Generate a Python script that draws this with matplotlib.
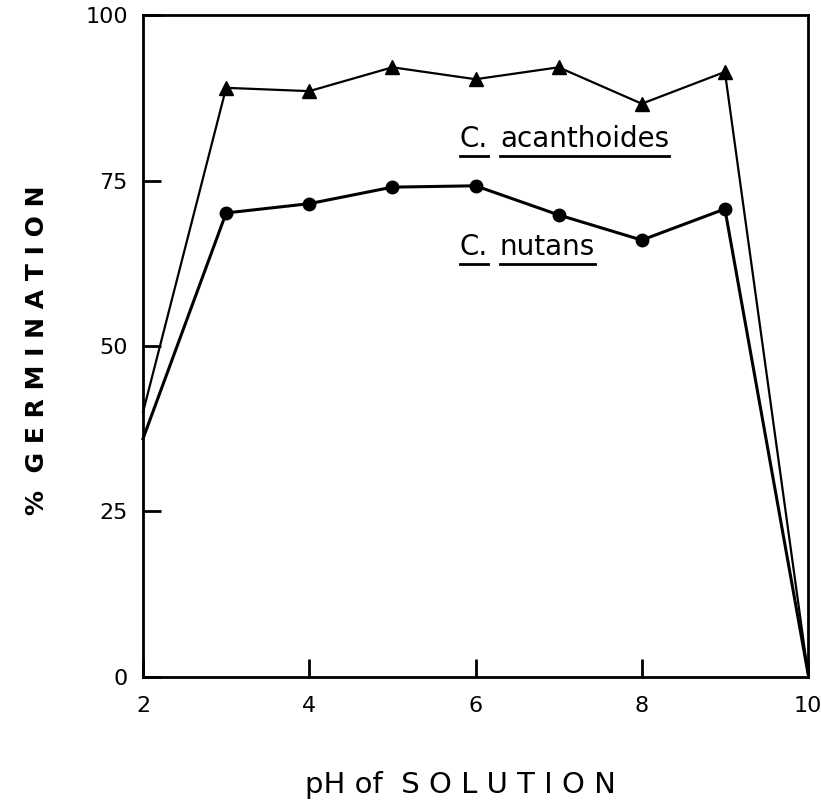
import matplotlib
matplotlib.use("Agg")
import matplotlib.pyplot as plt

ph = [2, 3, 4, 5, 6, 7, 8, 9, 10]
acanthoides = [40, 89, 88.5, 92.1, 90.3, 92.1, 86.6, 91.4, 0.5]
nutans = [36, 70.1, 71.5, 74.0, 74.2, 69.8, 66.0, 70.7, 0.5]
xticks = [2, 4, 6, 8, 10]
yticks = [0, 25, 50, 75, 100]

fig = plt.figure(figsize=(8.21, 8.07), dpi=100)
ax = fig.add_axes([0.1742, 0.1611, 0.9842 - 0.1742, 0.9814 - 0.1611])

inner = list(range(1, len(ph) - 1))
ax.plot(ph, acanthoides, color="black", lw=1.6, marker="^", markersize=10,
        markevery=inner, clip_on=False, zorder=3)
ax.plot(ph, nutans, color="black", lw=2.2, marker="o", markersize=9,
        markevery=inner, clip_on=False, zorder=3)

ax.set_xlim(2, 10)
ax.set_ylim(0, 100)
ax.set_xticks(xticks)
ax.set_yticks(yticks)
ax.set_xticklabels([str(v) for v in xticks])
ax.set_yticklabels([str(v) for v in yticks])
ax.tick_params(direction="in", length=13, width=2, labelsize=16, pad=14)
ax.tick_params(axis="y", pad=11)
for s in ax.spines.values():
    s.set_linewidth(2)

ax.set_xlabel("pH of  S O L U T I O N", fontsize=21)
ax.xaxis.set_label_coords(0.477, -0.142)
ax.set_ylabel("%  G E R M I N A T I O N", fontsize=18, fontweight="bold")
ax.yaxis.set_label_coords(-0.142, 0.494)

labels = [("C.", "acanthoides", 5.81, 80.0), ("C.", "nutans", 5.81, 63.7)]
fig.canvas.draw()
r = fig.canvas.get_renderer()
inv = ax.transData.inverted()
for a, b, x, y in labels:
    t1 = ax.text(x, y, a, fontsize=20, ha="left", va="baseline")
    bb1 = t1.get_window_extent(r)
    x2 = inv.transform((bb1.x1 + 12, 0))[0]
    t2 = ax.text(x2, y, b, fontsize=20, ha="left", va="baseline")
    bb2 = t2.get_window_extent(r)
    yl = inv.transform((0, bb1.y0 - 3))[1]
    for bb in (bb1, bb2):
        xa = inv.transform((bb.x0, 0))[0]
        xb = inv.transform((bb.x1, 0))[0]
        ax.plot([xa, xb], [yl, yl], color="black", lw=2)

fig.savefig("out.png", dpi=100)
